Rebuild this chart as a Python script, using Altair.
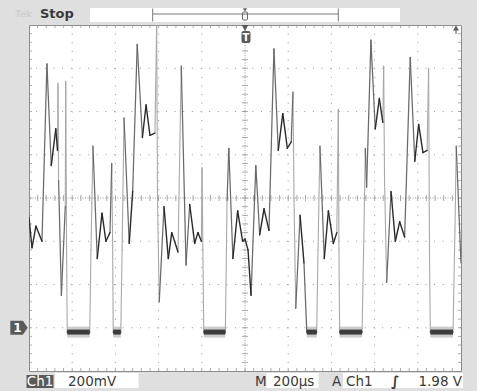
import altair as alt
import numpy as np
import pandas as pd

# ---- waveform: time in µs (trigger = 0), voltage in V (200 mV/div, 200 µs/div)
time_us = [-1000, -986, -968, -940, -917, -897, -876, -868, -866, -863, -850, -832, -830, -826, -823,
           -719, -713, -704, -684, -662, -644, -625, -617, -613, -610,
           -575, -569, -560, -536, -520, -499, -475, -458, -440, -417, -409, -405, -397, -375, -355, -339,
           -310, -295, -273, -256, -233, -218, -202, -199, -195, -191,
           -91, -83, -75, -56, -34, -11, 0, 14, 28, 50, 68, 88, 111, 134, 154, 175, 196, 214, 222, 227,
           235, 255, 273, 280, 286,
           332, 338, 347, 367, 386, 409, 425, 432, 435, 438,
           542, 549, 557, 563, 583, 603, 622, 638, 642, 646, 656, 676, 696, 716, 739, 765, 786, 804, 824,
           843, 850, 854, 858,
           963, 972, 978, 999, 1000]
volts = [0.51, 0.37, 0.47, 0.40, 1.22, 0.75, 0.92, 0.82, 1.13, 0.68, 0.15, 0.56, 1.14, 0.36, -0.02,
         -0.02, 0.36, 0.84, 0.32, 0.53, 0.40, 0.44, 0.76, 0.41, -0.02,
         -0.02, 0.36, 0.97, 0.39, 0.63, 1.31, 0.88, 1.03, 0.89, 0.90, 1.40, 0.59, 0.12, 0.56, 0.32, 0.44,
         0.35, 1.21, 0.29, 0.57, 0.39, 0.44, 0.40, 0.74, 0.36, -0.02,
         -0.02, 0.59, 0.83, 0.32, 0.54, 0.40, 0.41, 0.36, 0.15, 0.75, 0.43, 0.55, 0.45, 1.29, 0.82, 0.99,
         0.83, 0.86, 1.09, 0.59,
         0.09, 0.52, 0.30, 0.13, -0.02,
         -0.02, 0.36, 0.84, 0.32, 0.54, 0.39, 0.44, 1.01, 0.36, -0.02,
         -0.02, 0.36, 0.83, 0.65, 1.33, 0.92, 1.06, 0.95, 1.21, 0.68, 0.21, 0.63, 0.40, 0.49, 0.42, 1.25,
         0.77, 0.94, 0.81,
         0.82, 1.20, 0.36, -0.02,
         -0.02, 0.45, 0.84, 0.32, 0.30]
assert len(time_us) == len(volts)

# noisy low plateaus
low_start_us = [-823, -610, -191, 286, 438, 858]
low_end_us = [-719, -575, -91, 332, 542, 963]
low_level_v = -0.02

# graticule
T0, T1 = -1000, 1000
V0, V1 = -0.2, 1.4
major_t = [-800, -600, -400, -200, 200, 400, 600, 800]
major_v = [0.0, 0.2, 0.4, 0.8, 1.0, 1.2]
minor_t = [T0 + 40 * k for k in range(1, 50)]
minor_v = [round(V0 + 0.04 * k, 3) for k in range(1, 40)]

xs = alt.Scale(domain=[T0, T1], nice=False, zero=False)
ys = alt.Scale(domain=[V0, V1], nice=False, zero=False)
FONT = "DejaVu Sans"
INK = "#3a3a3a"
DARK = "#5a5a5a"
one = pd.DataFrame({"a": [0]})


def X(f):
    return alt.X(f, scale=xs, axis=None)


def Y(f):
    return alt.Y(f, scale=ys, axis=None)


def txt(s, x, y, size=13, color=INK, align="left", weight="normal", font=FONT):
    return alt.Chart(one).mark_text(text=s, align=align, baseline="alphabetic", font=font,
                                    fontSize=size, color=color, fontWeight=weight).encode(
        x=alt.value(x), y=alt.value(y))


def box(x1, x2, y1, y2, fill="white", stroke=None, r=0):
    kw = dict(fill=fill, cornerRadius=r)
    if stroke:
        kw.update(stroke=stroke, strokeWidth=1)
    return alt.Chart(one).mark_rect(**kw).encode(
        x=alt.value(x1), x2=alt.value(x2), y=alt.value(y1), y2=alt.value(y2))


def line(x1, x2, y1, y2, color="#777"):
    return alt.Chart(one).mark_rule(color=color, strokeWidth=1).encode(
        x=alt.value(x1), x2=alt.value(x2), y=alt.value(y1), y2=alt.value(y2))


layers = []
# dotted grid
layers.append(alt.Chart(pd.DataFrame({"t": major_t})).mark_rule(
    color="#9a9a9a", strokeDash=[1, 7.64], strokeWidth=1).encode(x=X("t:Q")))
layers.append(alt.Chart(pd.DataFrame({"v": major_v})).mark_rule(
    color="#9a9a9a", strokeDash=[1, 7.65], strokeWidth=1).encode(y=Y("v:Q")))
# center cross
layers.append(alt.Chart(pd.DataFrame({"t": [0]})).mark_rule(
    color="#9a9a9a", strokeDash=[1, 1.5], strokeWidth=1).encode(x=X("t:Q")))
layers.append(alt.Chart(pd.DataFrame({"v": [0.6]})).mark_rule(
    color="#9a9a9a", strokeDash=[1, 1.5], strokeWidth=1).encode(y=Y("v:Q")))
# minor ticks on border and center lines
tx = pd.DataFrame([(t, v) for v in (V0, 0.6, V1) for t in minor_t], columns=["t", "v"])
ty = pd.DataFrame([(t, v) for t in (T0, 0, T1) for v in minor_v], columns=["t", "v"])
layers.append(alt.Chart(tx).mark_tick(orient="vertical", size=6, thickness=1, color="#8a8a8a",
                                      clip=True).encode(x=X("t:Q"), y=Y("v:Q")))
layers.append(alt.Chart(ty).mark_tick(orient="horizontal", size=6, thickness=1, color="#8a8a8a",
                                      clip=True).encode(x=X("t:Q"), y=Y("v:Q")))

# low plateaus (noise haze + dense core)
low = pd.DataFrame({"t": low_start_us, "t2": low_end_us, "v": [low_level_v] * len(low_start_us)})
layers.append(alt.Chart(low).mark_rule(color="#cdcdcd", strokeWidth=11).encode(
    x=X("t:Q"), x2="t2:Q", y=Y("v:Q")))

# trace segments, shaded by speed (fast edges look faint on a scope)
tr = pd.DataFrame({"t": time_us, "v": volts})
seg = pd.DataFrame({"t": tr.t.values[:-1], "v": tr.v.values[:-1],
                    "t2": tr.t.values[1:], "v2": tr.v.values[1:]})
slope = 1000 * np.abs(seg.v2 - seg.v) / (seg.t2 - seg.t)
seg["kind"] = np.select([slope > 45, slope > 15], ["fast", "mid"], "slow")
seg["order"] = seg.kind.map({"fast": 0, "mid": 1, "slow": 2})
seg = seg.sort_values("order", kind="stable")
kinds = ["fast", "mid", "slow"]
layers.append(alt.Chart(seg).mark_rule(strokeCap="round", clip=True).encode(
    x=X("t:Q"), y=Y("v:Q"), x2="t2:Q", y2="v2:Q",
    color=alt.Color("kind:N", scale=alt.Scale(domain=kinds, range=["#a8a8a8", "#6a6a6a", "#2a2a2a"]),
                    legend=None),
    size=alt.Size("kind:N", scale=alt.Scale(domain=kinds, range=[1.1, 1.4, 2.2]), legend=None)))

layers.append(alt.Chart(low).mark_rule(color="#3c3c3c", strokeWidth=5).encode(
    x=X("t:Q"), x2="t2:Q", y=Y("v:Q")))

# trigger position marker (top centre of screen)
layers.append(alt.Chart(pd.DataFrame({"t": [0]})).mark_point(
    shape="triangle-down", filled=True, size=45, color=DARK, opacity=1).encode(
    x=X("t:Q"), y=alt.value(3)))
layers.append(box(212.5, 221.5, 6, 18, fill=DARK, r=2))
layers.append(txt("T", 217, 16, size=10, color="white", align="center", weight="bold"))
# trigger level off-screen arrow (top right)
layers.append(alt.Chart(one).mark_point(shape="triangle-up", filled=True, size=35, color=DARK,
                                        opacity=1).encode(x=alt.value(427), y=alt.value(3)))
layers.append(line(427, 427, 4, 9, color=DARK))
# ground marker "1"
layers.append(alt.Chart(pd.DataFrame({"v": [0.0]})).mark_point(
    shape="M-1,-0.8L0.45,-0.8L1,0L0.45,0.8L-1,0.8Z", filled=True, size=300, color=DARK,
    opacity=1, strokeWidth=0).encode(x=alt.value(-10), y=Y("v:Q")))
layers.append(alt.Chart(pd.DataFrame({"v": [0.0]})).mark_text(
    text="1", font=FONT, fontSize=12, fontWeight="bold", color="white", align="center",
    baseline="middle").encode(x=alt.value(-11.5), y=Y("v:Q")))

# ---- top status bar
layers.append(txt("Tek", -14, -8, size=9, color="#d0d0d0", weight="bold"))
layers.append(txt("Stop", 11, -7, size=13, weight="bold"))
layers.append(box(61, 371, -17, -3))
layers.append(line(123.7, 309.3, -11, -11))
layers.append(line(123.7, 123.7, -16.5, -3.5))
layers.append(line(309.3, 309.3, -16.5, -3.5))
layers.append(alt.Chart(one).mark_point(shape="triangle-down", filled=True, size=18, color="#666",
                                        opacity=1).encode(x=alt.value(216), y=alt.value(-15)))
layers.append(box(213.5, 218.5, -13, -5, fill="white", stroke="#666", r=1))
layers.append(line(213.5, 218.5, -11, -11, color="#666"))

# ---- bottom status bar
layers.append(box(-2.5, 24.5, 350, 363, fill=DARK))
layers.append(txt("Ch1", 11, 361, size=13.5, color="white", align="center"))
layers.append(box(26, 109.5, 348, 363))
layers.append(txt("200mV", 39, 361, size=13.5))
layers.append(txt("M", 226, 361, size=13.5))
layers.append(box(237.5, 289.5, 348, 363))
layers.append(txt("200µs", 244, 361, size=13.5))
layers.append(txt("A", 303, 361, size=13.5))
layers.append(box(314, 434, 348, 363))
layers.append(txt("Ch1", 317, 361, size=13.5))
layers.append(txt("∫", 362, 361, size=14, weight="bold"))
layers.append(txt("1.98 V", 433, 361, size=13.5, align="right"))

chart = alt.layer(*layers).properties(
    width=432, height=346,
    padding={"left": 29, "top": 25, "right": 16, "bottom": 20},
    autosize=alt.AutoSizeParams(type="none"),
    background="#dfdfdf",
).configure_view(fill="white", stroke="#8c8c8c", strokeWidth=1)

chart.save("out.html", embed_options={"renderer": "svg", "actions": False})
